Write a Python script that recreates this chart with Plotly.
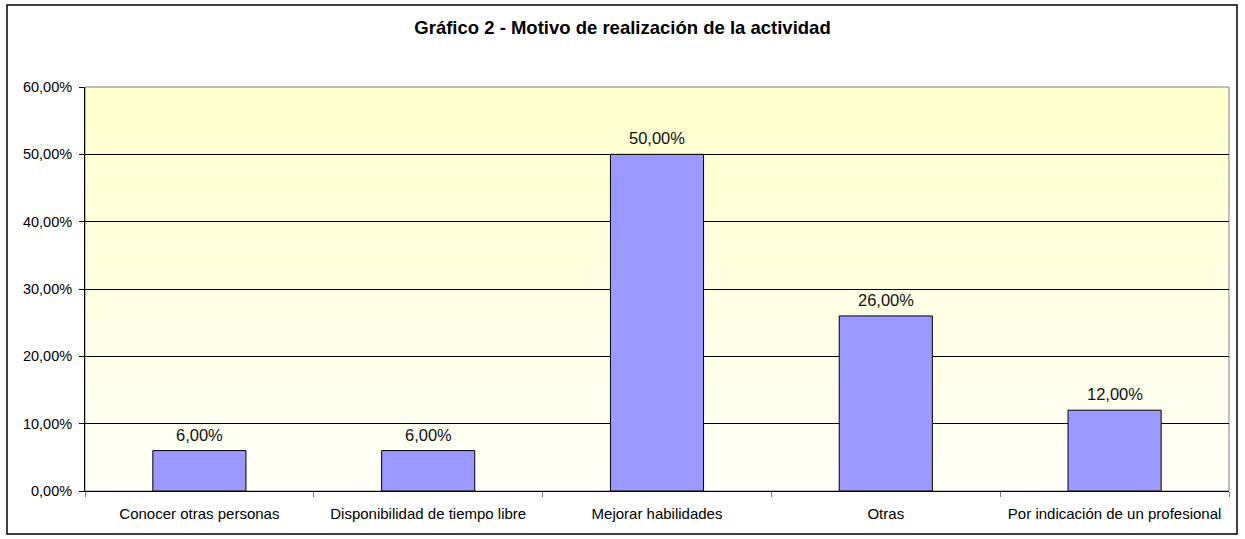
import plotly.graph_objects as go

categories = ["Conocer otras personas", "Disponibilidad de tiempo libre",
              "Mejorar habilidades", "Otras", "Por indicación de un profesional"]
values = [0.06, 0.06, 0.50, 0.26, 0.12]
y_ticks = [0, 0.1, 0.2, 0.3, 0.4, 0.5, 0.6]
title_text = "Gráfico 2 - Motivo de realización de la actividad"

W, H = 1245, 539
L, R, T, B = 85, 1229, 87, 491  # plot area in pixels
pw, ph = R - L, B - T

def px(x):
    return (x - L) / pw

def py(y):
    return (B - y) / ph

FONT = "Liberation Sans, Arial"

fig = go.Figure()
fig.add_trace(go.Bar(
    x=categories, y=values, width=0.407,
    marker=dict(color="#9999FF", line=dict(color="#000000", width=1)),
    cliponaxis=False,
))

# value labels above bars
for c, v in zip(categories, values):
    fig.add_annotation(x=c, y=v, xref="x", yref="y",
                       text=("%.2f%%" % (v * 100)).replace(".", ","),
                       showarrow=False, yanchor="bottom", yshift=5,
                       font=dict(family=FONT, size=16.5, color="#111"))

# gradient plot background (yellow at top to near-white at bottom)
n = 60
top = (255, 255, 204)
bot = (255, 255, 247)
for i in range(n):
    f = i / (n - 1)
    col = tuple(round(bot[k] + (top[k] - bot[k]) * f) for k in range(3))
    fig.add_shape(type="rect", xref="paper", yref="paper",
                  x0=0, x1=1, y0=i / n, y1=(i + 1) / n,
                  fillcolor="rgb(%d,%d,%d)" % col, line=dict(width=0), layer="below")

# plot-area border (gray)
fig.add_shape(type="rect", xref="paper", yref="paper", x0=0, x1=1, y0=0, y1=1,
              line=dict(color="#808080", width=1), fillcolor="rgba(0,0,0,0)", layer="below")

# outer chart border
fig.add_shape(type="rect", xref="paper", yref="paper",
              x0=px(7), x1=px(1237), y0=py(534), y1=py(5),
              line=dict(color="#000", width=1.5), fillcolor="rgba(0,0,0,0)")

fig.update_layout(
    width=W, height=H,
    margin=dict(l=L, r=W - R, t=T, b=H - B),
    paper_bgcolor="white", plot_bgcolor="rgba(0,0,0,0)",
    separators=",.",
    showlegend=False,
    font=dict(family=FONT, size=15, color="#000"),
    title=dict(text="<b>" + title_text + "</b>", x=0.5, xanchor="center",
               y=1 - 28 / H, yanchor="middle",
               font=dict(size=18.5, family=FONT)),
)
fig.update_yaxes(range=[0, 0.6], tickvals=y_ticks, tickformat=".2%",
                 showgrid=True, gridcolor="#000", gridwidth=1,
                 showline=True, linecolor="#000", linewidth=1,
                 ticks="outside", ticklen=5, tickcolor="#000",
                 ticklabelstandoff=4,
                 zeroline=False, tickfont=dict(size=14.5))
fig.update_xaxes(showline=True, linecolor="#000", linewidth=1,
                 ticks="outside", ticklen=5, tickcolor="#808080",
                 tickson="boundaries", ticklabelstandoff=9,
                 tickfont=dict(size=15))

fig.write_html("out.html", config={"displayModeBar": False},
               post_script="document.body.style.margin='0px';")
